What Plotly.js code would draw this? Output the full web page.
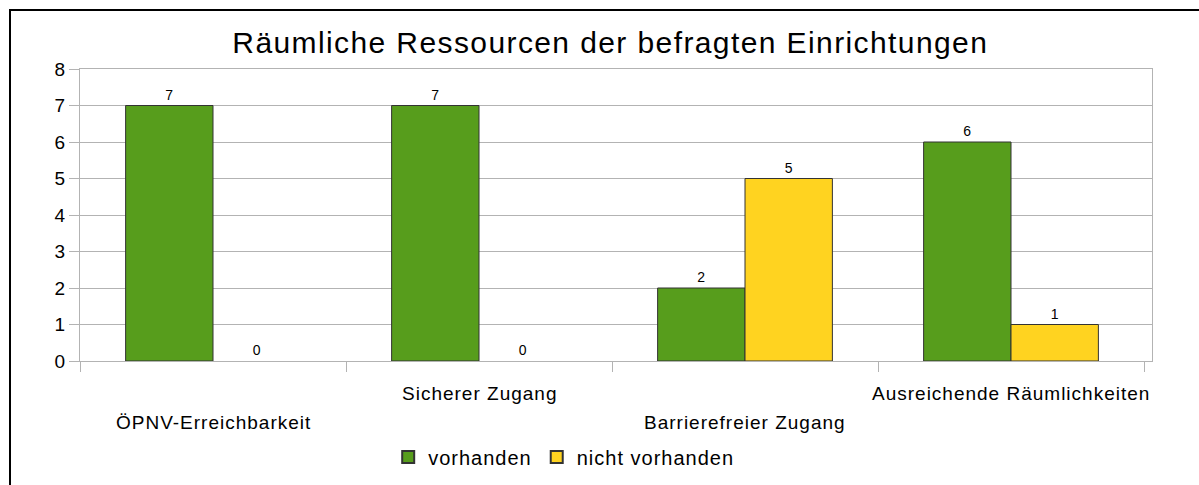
<!DOCTYPE html>
<html>
<head>
<meta charset="utf-8">
<script src="https://cdn.plot.ly/plotly-3.0.1.min.js"></script>
<style>
  html, body { margin: 0; padding: 0; background: #fff; overflow: hidden; }
  #chart { position: absolute; left: 0; top: 0; width: 1199px; height: 485px; }
  #frame { position: absolute; left: 9px; top: 9px; width: 1300px; height: 600px;
           border-left: 2px solid #000; border-top: 2px solid #000; pointer-events: none; }
  svg text.annotation-text, svg text.legendtext { letter-spacing: 1px; }
  svg text.gtitle { letter-spacing: 1.4px; }
</style>
</head>
<body>
<div id="chart"></div>
<div id="frame"></div>
<script>
const categories = ["ÖPNV-Erreichbarkeit", "Sicherer Zugang", "Barrierefreier Zugang", "Ausreichende Räumlichkeiten"];
const seriesNames = ["vorhanden", "nicht vorhanden"];
const vorhanden = [7, 7, 2, 6];
const nichtVorhanden = [0, 0, 5, 1];
const yTicks = [0, 1, 2, 3, 4, 5, 6, 7, 8];
const titleText = "Räumliche Ressourcen der befragten Einrichtungen";

const FONT = "Liberation Sans, Arial, sans-serif";
const outline = vals => ({ color: "#333333", width: vals.map(v => (v === 0 ? 0 : 1)) });

const traces = [
  {
    type: "bar", name: seriesNames[0], x: categories, y: vorhanden,
    marker: { color: "#579d1c", line: outline(vorhanden) },
    text: vorhanden.map(String), textposition: "outside", cliponaxis: false,
    textfont: { family: FONT, size: 14, color: "#000" }, hoverinfo: "none"
  },
  {
    type: "bar", name: seriesNames[1], x: categories, y: nichtVorhanden,
    marker: { color: "#ffd320", line: outline(nichtVorhanden) },
    text: nichtVorhanden.map(String), textposition: "outside", cliponaxis: false,
    textfont: { family: FONT, size: 14, color: "#000" }, hoverinfo: "none"
  }
];

const annotations = categories.map((c, i) => ({
  x: c, xref: "x", yref: "paper",
  y: i % 2 === 0 ? -0.209 : -0.11,
  yanchor: "middle", xanchor: "center", showarrow: false,
  text: c, font: { family: FONT, size: 19, color: "#000" }
}));

const layout = {
  width: 1199, height: 485,
  margin: { l: 80, r: 47, t: 69, b: 124, pad: 0, autoexpand: false },
  paper_bgcolor: "#fff", plot_bgcolor: "#fff",
  font: { family: FONT, color: "#000" },
  title: {
    text: titleText, font: { family: FONT, size: 30, color: "#000" },
    x: 0.509, xanchor: "center", y: 0.913, yanchor: "middle", xref: "container", yref: "container",
    automargin: false
  },
  barmode: "group", bargap: 0.343, bargroupgap: 0,
  showlegend: true,
  legend: {
    orientation: "h", x: 0.2875, xanchor: "left", y: -0.262, yanchor: "top",
    font: { family: FONT, size: 20, color: "#000" }, traceorder: "normal",
    itemsizing: "constant"
  },
  xaxis: {
    type: "category", showticklabels: false, ticks: "outside", tickson: "boundaries",
    ticklen: 10, tickcolor: "#b3b3b3", tickwidth: 1,
    showline: true, linecolor: "#b3b3b3", linewidth: 1, mirror: true,
    showgrid: false, zeroline: false, fixedrange: true, automargin: false
  },
  yaxis: {
    range: [0, 8], tickvals: yTicks, ticktext: yTicks.map(String),
    ticks: "outside", ticklen: 10, tickcolor: "#b3b3b3", tickwidth: 1,
    showline: true, linecolor: "#b3b3b3", linewidth: 1, mirror: true,
    showgrid: true, gridcolor: "#b3b3b3", gridwidth: 1, zeroline: false,
    tickfont: { family: FONT, size: 19, color: "#000" }, fixedrange: true, automargin: false
  },
  annotations: annotations
};

Plotly.newPlot("chart", traces, layout, { displayModeBar: false, staticPlot: true });
</script>
</body>
</html>
